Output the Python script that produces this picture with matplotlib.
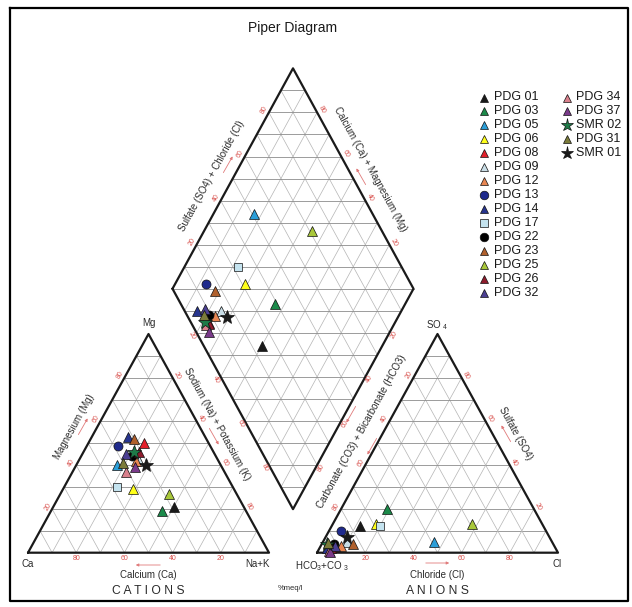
import numpy as np
import matplotlib.pyplot as plt

plt.rcParams['font.family'] = ['Liberation Sans', 'DejaVu Sans']
plt.rcParams['mathtext.fontset'] = 'custom'
plt.rcParams['mathtext.rm'] = 'Liberation Sans'

samples = ['PDG 01', 'PDG 03', 'PDG 05', 'PDG 06', 'PDG 08', 'PDG 09', 'PDG 12',
           'PDG 13', 'PDG 14', 'PDG 17', 'PDG 22', 'PDG 23', 'PDG 25', 'PDG 26',
           'PDG 32', 'PDG 34', 'PDG 37', 'SMR 02', 'PDG 31', 'SMR 01']

# cations, % meq/l
ca  = [29, 35, 43, 42, 27, 33, 34, 38, 32, 48, 35, 30, 28, 31, 37, 41, 36, 33, 40, 31]
mg  = [21, 19, 40, 29, 50, 42, 42, 49, 53, 30, 44, 52, 27, 46, 45, 37, 39, 46, 41, 40]
nak = [50, 46, 17, 29, 23, 25, 24, 13, 15, 22, 21, 18, 45, 23, 18, 22, 25, 21, 19, 29]

# anions, % meq/l
hco3 = [76, 61, 49, 69, 92.5, 85, 88.5, 85, 95, 68, 91, 83, 29, 93, 91, 94.5, 94.5, 94, 93, 84]
so4  = [12, 20,  5, 13,  2.5,  5,  3,   10,  2, 12,  4,  4, 13,  2,  3,  1,   0.5,  4,  4.5, 7]
cl   = [12, 19, 46, 18,  5,   10, 8.5,  5,  3, 20,  5, 13, 58,  5,  6,  4.5, 5,    2,  2.5, 9]

markers = ['^', '^', '^', '^', '^', '^', '^', 'o', '^', 's',
           'o', '^', '^', '^', '^', '^', '^', '*', '^', '*']
colors = ['#1a1a1a', '#1b8a4a', '#2b9ed8', '#ffff1a', '#e3202b', '#c9dde6', '#e88652',
          '#1f2a8c', '#27358f', '#c4e3ef', '#000000', '#b0602c', '#a9c83a', '#8e1b2c',
          '#4b3f92', '#d9808c', '#7a3a8a', '#1e7a48', '#7b7b3a', '#1a1a1a']
sizes = {'^': 6.5, 'o': 6.5, 's': 6, '*': 10}

# layout in pixels (y grows downward)
X0, BASE, SIDE, GAP, HT, HTD = 28.0, 552.7, 241.0, 48.0, 218.7, 220.4
RED = '#d9534f'
TXT = '#2b2b2b'


def cat_xy(c, m, n):
    c, m, n = np.asarray(c) / 100, np.asarray(m) / 100, np.asarray(n) / 100
    return X0 + SIDE * (n + 0.5 * m), BASE - HT * m


def an_xy(h, s, c):
    h, s, c = np.asarray(h) / 100, np.asarray(s) / 100, np.asarray(c) / 100
    return X0 + SIDE + GAP + SIDE * (c + 0.5 * s), BASE - HT * s


def dia_xy(n, sc):
    n, sc = np.asarray(n) / 100, np.asarray(sc) / 100
    bx = X0 + SIDE + GAP / 2
    by = BASE - HT * GAP / SIDE
    x = bx - (1 - n) * SIDE / 2 + sc * SIDE / 2
    y = by - (1 - n) * HTD - sc * HTD
    return x, y


fig = plt.figure(figsize=(6.32, 6.07), dpi=100)
ax = fig.add_axes([0, 0, 1, 1])
ax.set_xlim(0, 632)
ax.set_ylim(607, 0)
ax.axis('off')

# frame
ax.plot([10, 628, 628, 10, 10], [8, 8, 601, 601, 8], color='k', lw=1.6)


def seg(p, q, **kw):
    ax.plot([p[0], q[0]], [p[1], q[1]], **kw)


GRID_H = dict(color='#8c8c8c', lw=0.6, zorder=1)
GRID_D = dict(color='#b4b4b4', lw=0.5, zorder=1)
EDGE = dict(color='#1a1a1a', lw=1.6, zorder=2, solid_capstyle='round')

ticks = np.arange(10, 100, 10)

# ternary grids
for tri in (cat_xy, an_xy):
    for t in ticks:
        seg(tri(100 - t, t, 0), tri(0, t, 100 - t), **GRID_H)
        seg(tri(t, 0, 100 - t), tri(t, 100 - t, 0), **GRID_D)
        seg(tri(100 - t, 0, t), tri(0, 100 - t, t), **GRID_D)
    a, b, c = tri(100, 0, 0), tri(0, 0, 100), tri(0, 100, 0)
    ax.plot([a[0], b[0], c[0], a[0]], [a[1], b[1], c[1], a[1]], **EDGE)

# diamond grid
for t in ticks:
    seg(dia_xy(t, 0), dia_xy(t, 100), **GRID_D)
    seg(dia_xy(0, t), dia_xy(100, t), **GRID_D)
for k in range(1, 20):
    lev = k * 5
    if k <= 10:
        p, q = dia_xy(100 - 2 * lev, 0), dia_xy(100, 2 * lev)
    else:
        p, q = dia_xy(0, 2 * lev - 100), dia_xy(200 - 2 * lev, 100)
    seg(p, q, **GRID_H)
dv = [dia_xy(0, 0), dia_xy(0, 100), dia_xy(100, 100), dia_xy(100, 0)]
ax.plot([v[0] for v in dv + dv[:1]], [v[1] for v in dv + dv[:1]], **EDGE)

ANG = np.degrees(np.arctan2(HT, SIDE / 2))
tk = dict(color=RED, fontsize=5, ha='center', va='center')
nl = np.array([-HT, -SIDE / 2]) / np.hypot(HT, SIDE / 2)
nr = np.array([HT, -SIDE / 2]) / np.hypot(HT, SIDE / 2)
off = 5.0
for t in (20, 40, 60, 80):
    # cations
    x, y = cat_xy(100 - t, 0, t)
    ax.text(x, y + 6, str(100 - t), **tk)
    x, y = cat_xy(100 - t, t, 0)
    ax.text(x + off * nl[0], y + off * nl[1], str(t), rotation=ANG, **tk)
    x, y = cat_xy(0, 100 - t, t)
    ax.text(x + off * nr[0], y + off * nr[1], str(t), rotation=-ANG, **tk)
    # anions
    x, y = an_xy(100 - t, 0, t)
    ax.text(x, y + 6, str(t), **tk)
    x, y = an_xy(100 - t, t, 0)
    ax.text(x + off * nl[0], y + off * nl[1], str(100 - t), rotation=ANG, **tk)
    x, y = an_xy(0, t, 100 - t)
    ax.text(x + off * nr[0], y + off * nr[1], str(t), rotation=-ANG, **tk)
    # diamond
    x, y = dia_xy(0, t)
    ax.text(x + off * nl[0], y + off * nl[1], str(t), rotation=ANG, **tk)
    x, y = dia_xy(t, 100)
    ax.text(x + off * nr[0], y + off * nr[1], str(100 - t), rotation=-ANG, **tk)
    x, y = dia_xy(t, 0)
    ax.text(x - off * nr[0], y - off * nr[1], str(t), rotation=-ANG, **tk)
    x, y = dia_xy(100, t)
    ax.text(x - off * nl[0], y - off * nl[1], str(100 - t), rotation=ANG, **tk)

lab = dict(color=TXT, fontsize=7, ha='center', va='center')
ax.text(28, 564, 'Ca', **lab)
ax.text(257, 564, 'Na+K', **lab)
ax.text(148.5, 323, 'Mg', **lab)
ax.text(322, 566, r'HCO$_\mathregular{3}$+CO $_\mathregular{3}$', **lab)
ax.text(557, 564, 'Cl', **lab)
ax.text(437, 325, r'SO $_\mathregular{4}$', **lab)
ax.text(148.5, 575, 'Calcium (Ca)', **lab)
ax.text(437, 575, 'Chloride (Cl)', **lab)
ax.text(148.5, 591, 'C A T I O N S', color=TXT, fontsize=8.7, ha='center', va='center')
ax.text(437, 591, 'A N I O N S', color=TXT, fontsize=8.7, ha='center', va='center')
ax.text(290, 588, '%meq/l', color=TXT, fontsize=5.5, ha='center', va='center')
ax.text(74, 427, 'Magnesium (Mg)', rotation=ANG, **lab)
ax.text(217, 424, 'Sodium (Na) + Potassium (K)', rotation=-ANG, **lab)
ax.text(362, 432, 'Carbonate (CO3) + Bicarbonate (HCO3)', rotation=ANG, **lab)
ax.text(516, 433, 'Sulfate (SO4)', rotation=-ANG, **lab)
ax.text(212, 176, 'Sulfate (SO4) + Chloride (Cl)', rotation=ANG, **lab)
ax.text(370, 169, 'Calcium (Ca) + Magnesium (Mg)', rotation=-ANG, **lab)
ax.text(293, 28, 'Piper Diagram', color='#1a1a1a', fontsize=10, ha='center', va='center')

arr = dict(arrowstyle='-|>', color='#e07a7a', lw=0.6, mutation_scale=4)
for tail, head in [((163, 565), (133, 565)), ((423, 563), (452, 563)),
                   ((77, 437), (89, 416)), ((208, 426), (220, 447)),
                   ((222, 175), (234, 154)), ((367, 187), (355, 166)),
                   ((512, 444), (500, 423)), ((378, 436), (366, 457)),
                   ((357, 404), (345, 425))]:
    ax.annotate('', xy=head, xytext=tail, arrowprops=arr)

# samples
sc = [s + c for s, c in zip(so4, cl)]
cx, cy = cat_xy(ca, mg, nak)
axx, axy = an_xy(hco3, so4, cl)
dx, dy = dia_xy(nak, sc)
for i, name in enumerate(samples):
    m = markers[i]
    for X, Y in ((cx, cy), (axx, axy), (dx, dy)):
        ax.plot(X[i], Y[i], marker=m, ms=sizes[m], mfc=colors[i], mec='#111111',
                mew=0.5, ls='none', zorder=5)

# legend, two columns
for i, name in enumerate(samples):
    col, row = (0, i) if i < 15 else (1, i - 15)
    lx = 484 + col * 83
    ly = 97.5 + row * 13.95
    m = markers[i]
    ax.plot(lx, ly, marker=m, ms=sizes[m] * 0.95, mfc=colors[i], mec='#111111',
            mew=0.5, ls='none')
    ax.text(lx + 9.5, ly, name, color='#1a1a1a', fontsize=9, ha='left', va='center')

fig.savefig('out.png', dpi=100)
